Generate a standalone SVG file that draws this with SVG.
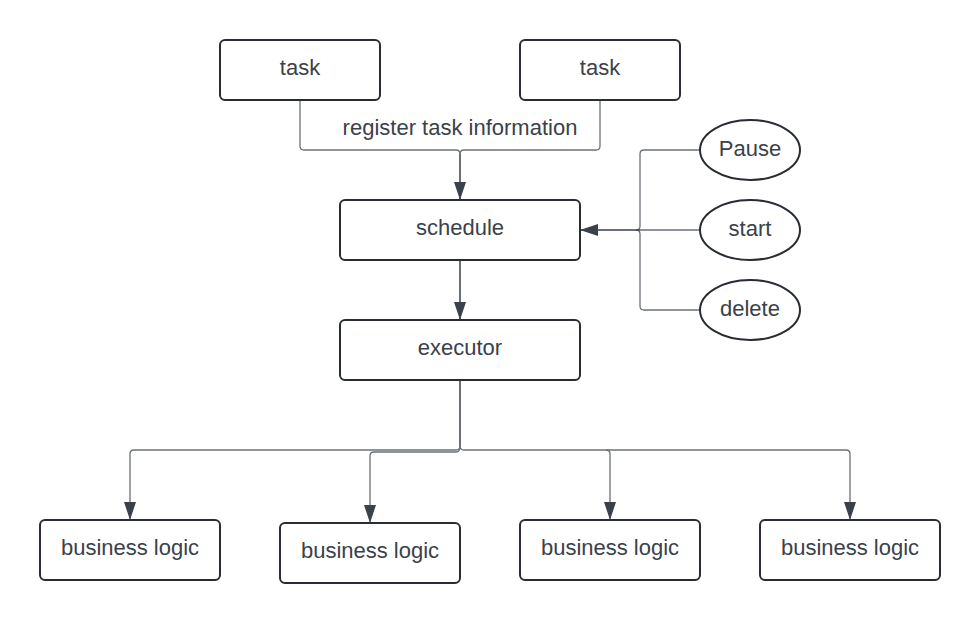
<svg xmlns="http://www.w3.org/2000/svg" width="980" height="623" viewBox="0 0 980 623">
<style>
.box{fill:#ffffff;stroke:#282c33;stroke-width:2}
.lbl{font-family:"Liberation Sans",Arial,sans-serif;font-size:22px;fill:#3a414a;text-anchor:middle}
.con{fill:none;stroke:#6b7178;stroke-width:1.3}
.main{fill:none;stroke:#3a414a;stroke-width:1.5}
</style>
<defs>
<marker id="arr" viewBox="0 0 18 12" refX="18" refY="6" markerWidth="18" markerHeight="12" markerUnits="userSpaceOnUse" orient="auto">
<path d="M0,0 L18,6 L0,12 Z" fill="#3a414a"/>
</marker>
</defs>
<rect width="980" height="623" fill="#ffffff"/>
<g id="connectors">
<path class="con" d="M300,100 V146 Q300,150 304,150 H456 Q460,150 460,154"/>
<path class="con" d="M600,100 V146 Q600,150 596,150 H464 Q460,150 460,154"/>
<path class="main" d="M460,154 V200" marker-end="url(#arr)"/>
<text class="lbl" x="460" y="135">register task information</text>
<path class="con" d="M700,150 H644 Q640,150 640,154 V226 Q640,230 636,230"/>
<path class="con" d="M700,310 H644 Q640,310 640,306 V234 Q640,230 636,230"/>
<path class="con" d="M700,230 H640"/>
<path class="main" d="M640,230 H580" marker-end="url(#arr)"/>
<path class="main" d="M460,260 V320" marker-end="url(#arr)"/>
<path class="main" d="M460,380 V446"/>
<path class="con" d="M460,446 Q460,450 456,450 H134 Q130,450 130,454 V520" marker-end="url(#arr)"/>
<path class="con" d="M460,446 Q460,452 456,452 H374 Q370,452 370,456 V523" marker-end="url(#arr)"/>
<path class="con" d="M460,446 Q460,450 464,450 H606 Q610,450 610,454 V520" marker-end="url(#arr)"/>
<path class="con" d="M606,450 H846 Q850,450 850,454 V520" marker-end="url(#arr)"/>
</g>
<g id="task1"><rect class="box" x="220" y="40" width="160" height="60" rx="5"/><text class="lbl" x="300" y="75">task</text></g>
<g id="task2"><rect class="box" x="520" y="40" width="160" height="60" rx="5"/><text class="lbl" x="600" y="75">task</text></g>
<g id="schedule"><rect class="box" x="340" y="200" width="240" height="60" rx="5"/><text class="lbl" x="460" y="235">schedule</text></g>
<g id="executor"><rect class="box" x="340" y="320" width="240" height="60" rx="5"/><text class="lbl" x="460" y="355">executor</text></g>
<g id="pause"><ellipse class="box" cx="750" cy="150" rx="50" ry="30"/><text class="lbl" x="750" y="156">Pause</text></g>
<g id="start"><ellipse class="box" cx="750" cy="230" rx="50" ry="30"/><text class="lbl" x="750" y="236">start</text></g>
<g id="delete"><ellipse class="box" cx="750" cy="310" rx="50" ry="30"/><text class="lbl" x="750" y="316">delete</text></g>
<g id="biz1"><rect class="box" x="40" y="520" width="180" height="60" rx="5"/><text class="lbl" x="130" y="555">business logic</text></g>
<g id="biz2"><rect class="box" x="280" y="523" width="180" height="60" rx="5"/><text class="lbl" x="370" y="558">business logic</text></g>
<g id="biz3"><rect class="box" x="520" y="520" width="180" height="60" rx="5"/><text class="lbl" x="610" y="555">business logic</text></g>
<g id="biz4"><rect class="box" x="760" y="520" width="180" height="60" rx="5"/><text class="lbl" x="850" y="555">business logic</text></g>
</svg>
